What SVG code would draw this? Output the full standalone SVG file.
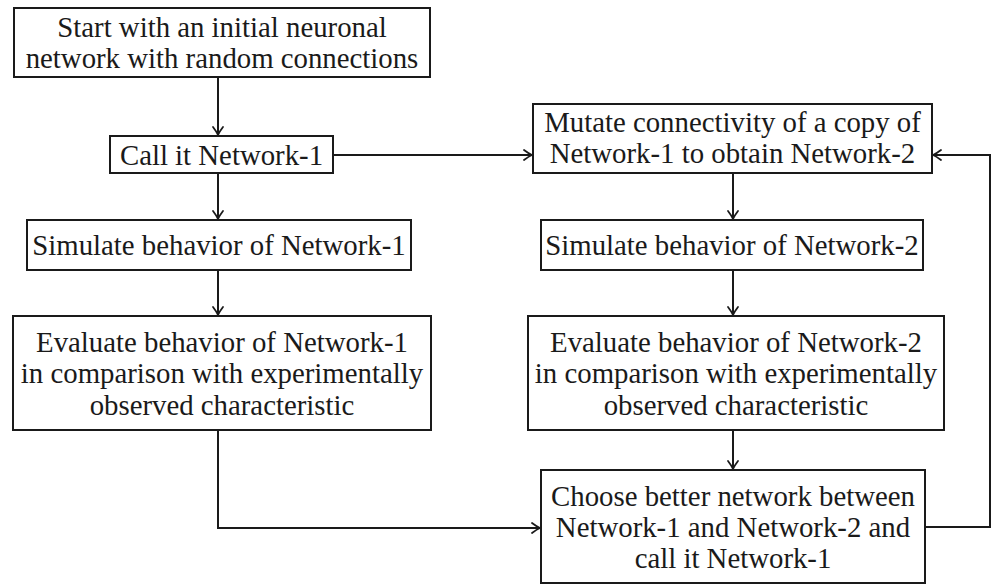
<svg xmlns="http://www.w3.org/2000/svg" width="995" height="584" viewBox="0 0 995 584">
<style>
.box{fill:#fff;stroke:#1a1a1a;stroke-width:2}
.t{font-family:"Liberation Serif","Times New Roman",serif;font-size:28.8px;fill:#1a1a1a;text-anchor:middle}
.c{fill:none;stroke:#1a1a1a;stroke-width:2}
</style>
<defs>
<marker id="ah" markerUnits="userSpaceOnUse" markerWidth="14" markerHeight="14" viewBox="-10 -7 12 14" refX="0" refY="0" orient="auto">
<path d="M-8,-5 Q-3,-1.2 0,0 Q-3,1.2 -8,5" fill="none" stroke="#1a1a1a" stroke-width="1.8" stroke-linecap="round"/>
</marker>
</defs>
<rect width="995" height="584" fill="#fff"/>
<g id="connectors">
<path class="c" d="M218,77 V135" marker-end="url(#ah)"/>
<path class="c" d="M333,155 H532" marker-end="url(#ah)"/>
<path class="c" d="M218,173 V219" marker-end="url(#ah)"/>
<path class="c" d="M218,270 V315" marker-end="url(#ah)"/>
<path class="c" d="M218,430 V528 H540" marker-end="url(#ah)"/>
<path class="c" d="M733,173 V219" marker-end="url(#ah)"/>
<path class="c" d="M733,270 V315" marker-end="url(#ah)"/>
<path class="c" d="M733,430 V469" marker-end="url(#ah)"/>
<path class="c" d="M925,527 H990 V155 H933" marker-end="url(#ah)"/>
</g>
<g id="start">
<rect class="box" x="14" y="8" width="416" height="69"/>
<text class="t" x="222" y="37">Start with an initial neuronal</text>
<text class="t" x="222" y="68">network with random connections</text>
</g>
<g id="call">
<rect class="box" x="110" y="136" width="223" height="37"/>
<text class="t" x="221.5" y="165">Call it Network-1</text>
</g>
<g id="sim1">
<rect class="box" x="27" y="220" width="384" height="50"/>
<text class="t" x="219" y="255">Simulate behavior of Network-1</text>
</g>
<g id="eval1">
<rect class="box" x="13" y="316" width="418" height="114"/>
<text class="t" x="222" y="352">Evaluate behavior of Network-1</text>
<text class="t" x="222" y="383">in comparison with experimentally</text>
<text class="t" x="222" y="415">observed characteristic</text>
</g>
<g id="mutate">
<rect class="box" x="533" y="104" width="399" height="69"/>
<text class="t" x="732.5" y="132">Mutate connectivity of a copy of</text>
<text class="t" x="732.5" y="163">Network-1 to obtain Network-2</text>
</g>
<g id="sim2">
<rect class="box" x="541" y="220" width="382" height="50"/>
<text class="t" x="732" y="255">Simulate behavior of Network-2</text>
</g>
<g id="eval2">
<rect class="box" x="528" y="316" width="416" height="114"/>
<text class="t" x="736" y="352">Evaluate behavior of Network-2</text>
<text class="t" x="736" y="383">in comparison with experimentally</text>
<text class="t" x="736" y="415">observed characteristic</text>
</g>
<g id="choose">
<rect class="box" x="541" y="470" width="384" height="113"/>
<text class="t" x="733" y="506">Choose better network between</text>
<text class="t" x="733" y="537">Network-1 and Network-2 and</text>
<text class="t" x="733" y="568">call it Network-1</text>
</g>
</svg>
